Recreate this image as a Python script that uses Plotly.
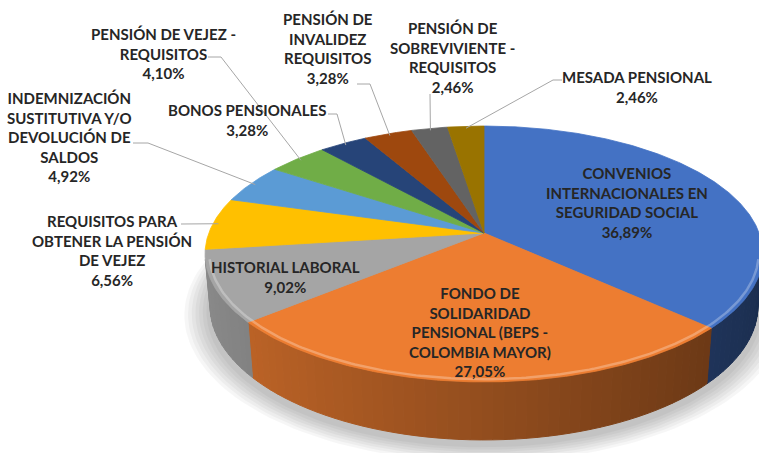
import numpy as np
import plotly.graph_objects as go

# ---------------- data ----------------
categories = [
    "CONVENIOS<br>INTERNACIONALES EN<br>SEGURIDAD SOCIAL",
    "FONDO DE<br>SOLIDARIDAD<br>PENSIONAL (BEPS -<br>COLOMBIA MAYOR)",
    "HISTORIAL LABORAL",
    "REQUISITOS PARA<br>OBTENER LA PENSIÓN<br>DE VEJEZ",
    "INDEMNIZACIÓN<br>SUSTITUTIVA Y/O<br>DEVOLUCIÓN DE<br>SALDOS",
    "PENSIÓN DE VEJEZ -<br>REQUISITOS",
    "BONOS PENSIONALES",
    "PENSIÓN DE<br>INVALIDEZ<br>REQUISITOS",
    "PENSIÓN DE<br>SOBREVIVIENTE -<br>REQUISITOS",
    "MESADA PENSIONAL",
]
percentages = [36.89, 27.05, 9.02, 6.56, 4.92, 4.10, 3.28, 3.28, 2.46, 2.46]
slice_colors = ["#4472C4", "#ED7D31", "#A5A5A5", "#FFC000", "#5B9BD5",
                "#70AD47", "#264478", "#9E480E", "#636363", "#997300"]

# label block centres (layout positions, pixels)
label_x = [627, 480, 285, 112, 69, 163, 247, 328, 452, 637]
label_y = [202, 332, 277, 250, 137, 53, 120, 48, 57, 87]
# leader line points on the label side (None = label inside slice)
leader_pts = [None, None, None,
              [(181, 224)],
              [(133, 143), (148, 143)],
              [(208, 57), (221, 57)],
              [(328, 114), (337, 114)],
              [(357, 84), (370, 84)],
              [(430, 94)],
              [(562, 80), (553, 80)]]

# ---------------- 3D projection ----------------
W, H = 759, 453
CX, CY = 484.0, 233.0
ELEV = np.radians(26.9)
SE, CE = np.sin(ELEV), np.cos(ELEV)
DIST = 6.095 * CE
FOC = 1495.7
THICK = 0.2125


def proj(theta, r=1.0, z=0.0):
    theta = np.asarray(theta, dtype=float)
    X = r * np.sin(theta)
    Y = r * np.cos(theta)
    w = DIST + Y * CE - z * SE
    return CX + FOC * X / w, CY - FOC * (Y * SE + z * CE) / w


def shade(hx, f):
    hx = hx.lstrip("#")
    r, g, b = (int(hx[i:i + 2], 16) for i in (0, 2, 4))
    return "rgb(%d,%d,%d)" % (min(255, r * f), min(255, g * f), min(255, b * f))


vals = np.array(percentages, dtype=float)
frac = vals / vals.sum()
edges = np.concatenate([[0.0], np.cumsum(frac)]) * 2 * np.pi
pct_labels = [("%.2f" % p).replace(".", ",") + "%" for p in percentages]

fig = go.Figure()

# soft shadow under the pie
for k in range(7):
    rr = 1.0 + 0.013 * (7 - k)
    t = np.linspace(0, 2 * np.pi, 200)
    sx, sy = proj(t, r=rr, z=-THICK)
    fig.add_trace(go.Scatter(x=sx, y=sy + 5, mode="lines", fill="toself",
                             fillcolor="rgba(0,0,0,0.035)", line=dict(width=0),
                             hoverinfo="skip"))

# visible side walls
t_lo = np.arccos(-1.0 / (DIST * CE))
t_hi = 2 * np.pi - t_lo
step = np.radians(2.0)
for i in range(len(vals)):
    a0, a1 = max(edges[i], t_lo), min(edges[i + 1], t_hi)
    if a1 <= a0:
        continue
    n = max(1, int(np.ceil((a1 - a0) / step)))
    bounds = np.linspace(a0, a1, n + 1)
    for j in range(n):
        tt = np.linspace(bounds[j], bounds[j + 1], 4)
        xt, yt = proj(tt, z=0.0)
        xb, yb = proj(tt[::-1], z=-THICK)
        xm = np.sin(0.5 * (bounds[j] + bounds[j + 1]))
        col = shade(slice_colors[i], 0.62 - 0.22 * xm)
        fig.add_trace(go.Scatter(x=np.concatenate([xt, xb, xt[:1]]),
                                 y=np.concatenate([yt, yb, yt[:1]]),
                                 mode="lines", fill="toself", fillcolor=col,
                                 line=dict(width=1, color=col), hoverinfo="skip"))

# top faces
for i in range(len(vals)):
    tt = np.linspace(edges[i], edges[i + 1], max(3, int(np.degrees(edges[i + 1] - edges[i]) * 2)))
    xs, ys = proj(tt)
    fig.add_trace(go.Scatter(x=np.concatenate([[CX], xs, [CX]]),
                             y=np.concatenate([[CY], ys, [CY]]),
                             mode="lines", fill="toself", fillcolor=slice_colors[i],
                             line=dict(width=0.8, color=slice_colors[i]),
                             name=categories[i].replace("<br>", " "),
                             hoverinfo="name"))

# bevel highlight on front rim
tt = np.linspace(t_lo, t_hi, 200)
xs, ys = proj(tt, r=0.985)
fig.add_trace(go.Scatter(x=xs, y=ys, mode="lines",
                         line=dict(width=2.5, color="rgba(255,255,255,0.28)"),
                         hoverinfo="skip"))

# leader lines
lx, ly = [], []
for i, pts in enumerate(leader_pts):
    if pts is None:
        continue
    mid = 0.5 * (edges[i] + edges[i + 1])
    ex, ey = proj(mid, r=0.98)
    for (px, py) in pts:
        lx.append(px)
        ly.append(py)
    lx += [float(ex), None]
    ly += [float(ey), None]
fig.add_trace(go.Scatter(x=lx, y=ly, mode="lines",
                         line=dict(width=1, color="#A6A6A6"), hoverinfo="skip"))

# labels
for i in range(len(vals)):
    fig.add_annotation(x=label_x[i], y=label_y[i], xref="x", yref="y",
                       text="<b>%s<br>%s</b>" % (categories[i], pct_labels[i]),
                       showarrow=False, align="center",
                       font=dict(family="Lato", size=15, color="#262626"))

fig.update_layout(width=W, height=H, autosize=False,
                  margin=dict(l=0, r=0, t=0, b=0),
                  paper_bgcolor="white", plot_bgcolor="white",
                  showlegend=False,
                  xaxis=dict(range=[0, W], visible=False, fixedrange=True),
                  yaxis=dict(range=[H, 0], visible=False, fixedrange=True))

fig.write_html("out.html",
               config={"displayModeBar": False},
               post_script="document.body.style.margin='0';"
                           "document.body.style.overflow='hidden';")
